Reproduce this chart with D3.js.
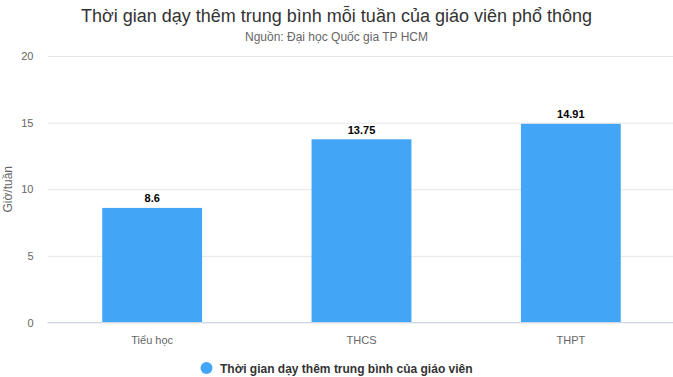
<!DOCTYPE html>
<html><head><meta charset="utf-8">
<script src="https://cdn.jsdelivr.net/npm/d3@7/dist/d3.min.js"></script>
<style>body{margin:0;background:#fff}svg{display:block;font-family:"Liberation Sans",Arial,Helvetica,sans-serif}</style>
</head><body>
<svg id="c" width="673" height="377"></svg>
<script>
const categories = ["Tiểu học", "THCS", "THPT"];
const values = [8.6, 13.75, 14.91];
const yTicks = [0, 5, 10, 15, 20];
const seriesName = "Thời gian dạy thêm trung bình của giáo viên";
const title = "Thời gian dạy thêm trung bình mỗi tuần của giáo viên phổ thông";
const subtitle = "Nguồn: Đại học Quốc gia TP HCM";
const yTitle = "Giờ/tuần";

const svg = d3.select("#c");
const m = {left: 47.5, right: 675.5, top: 56, bottom: 322.5};
const color = "#42a5f5";

const x = d3.scaleBand().domain(categories).range([m.left, m.right]).paddingInner(0.523).paddingOuter(0.2615);
const y = d3.scaleLinear().domain([0, 20]).range([m.bottom, m.top]);

svg.append("text").attr("x", 336.5).attr("y", 22).attr("text-anchor", "middle")
  .attr("fill", "#333").style("font-size", "18px").text(title);
svg.append("text").attr("x", 336.5).attr("y", 41).attr("text-anchor", "middle")
  .attr("fill", "#666").style("font-size", "12px").text(subtitle);

// grid
const yAxis = d3.axisLeft(y).tickValues(yTicks).tickSize(-(m.right - m.left)).tickPadding(14);
const gy = svg.append("g").attr("transform", `translate(${m.left},0)`).call(yAxis);
gy.select(".domain").remove();
gy.selectAll(".tick line").attr("stroke", "#e6e6e6");
gy.selectAll(".tick text").attr("fill", "#666").style("font-size", "11px").attr("font-family", null);

svg.append("text").attr("transform", `translate(12,${(m.top + m.bottom) / 2}) rotate(-90)`)
  .attr("text-anchor", "middle").attr("fill", "#666").style("font-size", "12px").text(yTitle);

// bars
svg.selectAll("rect.bar").data(values).join("rect").attr("class", "bar")
  .attr("x", (d, i) => x(categories[i])).attr("width", x.bandwidth())
  .attr("y", d => y(d)).attr("height", d => y(0) - y(d)).attr("fill", color);

// x axis
const xAxis = d3.axisBottom(x).tickSize(0).tickPadding(14);
const gx = svg.append("g").attr("transform", `translate(0,${m.bottom})`).call(xAxis);
gx.select(".domain").attr("stroke", "#ccd6eb").attr("d", `M${m.left},0H${m.right}`);
gx.selectAll(".tick text").attr("fill", "#666").style("font-size", "11px").attr("font-family", null);

// data labels
svg.selectAll("text.dl").data(values).join("text").attr("class", "dl")
  .attr("x", (d, i) => x(categories[i]) + x.bandwidth() / 2).attr("y", d => y(d) - 5.5)
  .attr("text-anchor", "middle").style("font-size", "11px").style("font-weight", "bold")
  .attr("fill", "#000").attr("stroke", "#fff").attr("stroke-width", 2).attr("paint-order", "stroke")
  .attr("stroke-linejoin", "round").text(d => d);

// legend
svg.append("circle").attr("cx", 206.5).attr("cy", 368).attr("r", 6).attr("fill", color);
svg.append("text").attr("x", 220).attr("y", 372.5).attr("fill", "#333")
  .style("font-size", "12px").style("font-weight", "bold").text(seriesName);
</script>
</body></html>
